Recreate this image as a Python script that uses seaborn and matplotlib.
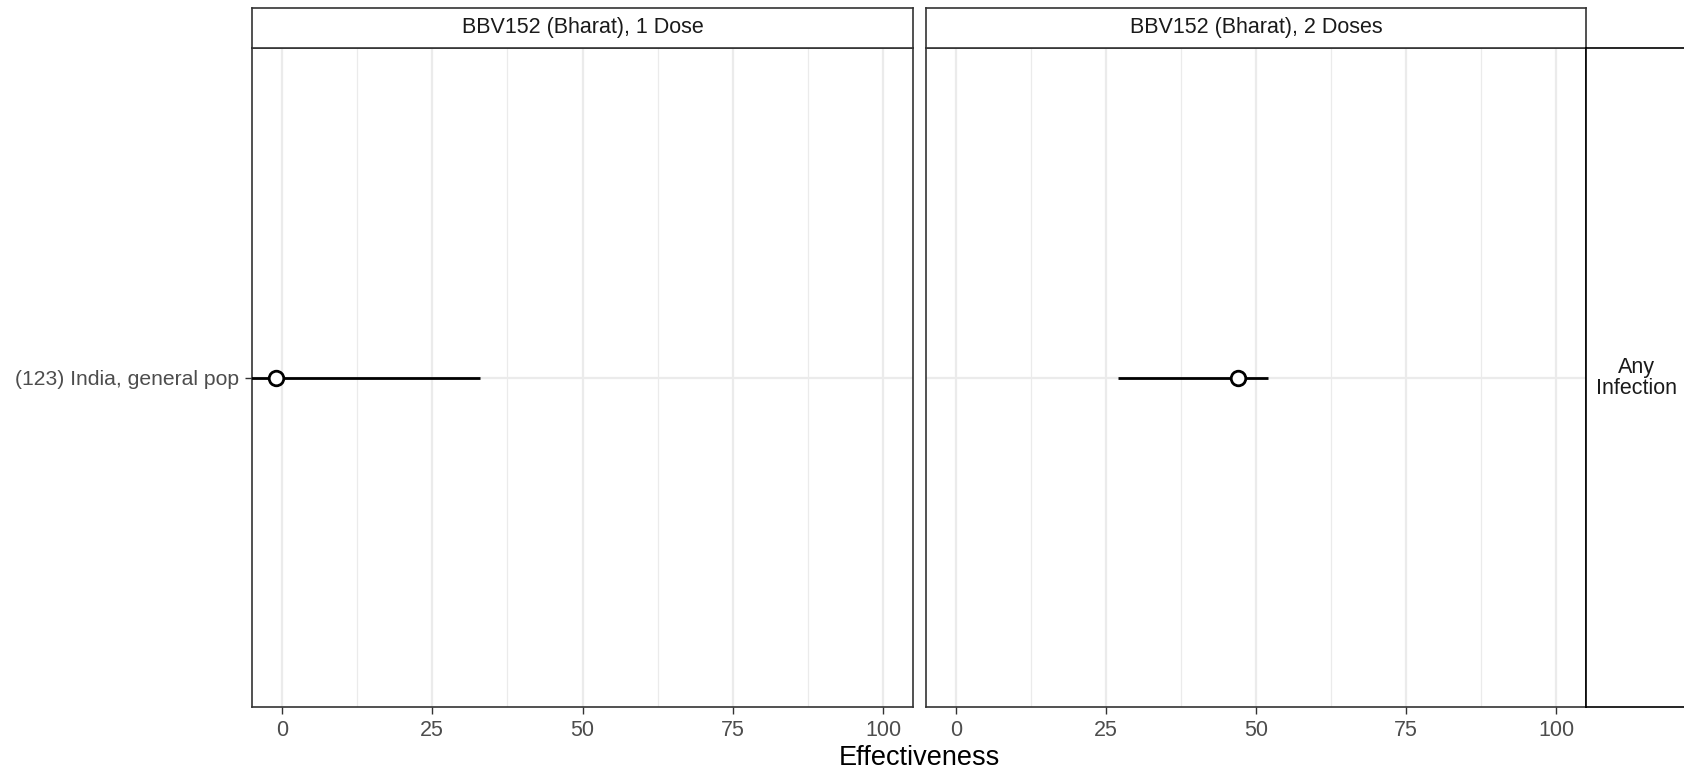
import numpy as np
import pandas as pd
import matplotlib
matplotlib.use("Agg")
import matplotlib.pyplot as plt
import seaborn as sns

# data
panels = ["BBV152 (Bharat), 1 Dose", "BBV152 (Bharat), 2 Doses"]
studies = ["(123) India, general pop"]
estimate = [-1, 47]
lower = [-12, 27]
upper = [33, 52]
outcome = "Any\nInfection"

df = pd.DataFrame({"panel": panels, "study": studies * 2,
                   "est": estimate, "lo": lower, "hi": upper})

sns.set_theme(style="white")
plt.rcParams["font.family"] = ["Liberation Sans", "DejaVu Sans"]

W, H = 1684, 776
fig = plt.figure(figsize=(W / 100, H / 100), dpi=100)


def px(x0, y0, x1, y1):
    return [x0 / W, 1 - y1 / H, (x1 - x0) / W, (y1 - y0) / H]


grey20 = "#333333"
grey30 = "#4d4d4d"
panel_x = [(252, 913), (926, 1586)]
top, bottom = 48, 707

for i, (name, (x0, x1)) in enumerate(zip(panels, panel_x)):
    ax = fig.add_axes(px(x0, top, x1, bottom))
    sub = df[df["panel"] == name]
    ypos = np.arange(len(sub))
    ax.hlines(ypos, sub["lo"], sub["hi"], color="black", lw=2, zorder=3)
    sns.scatterplot(x=sub["est"].values, y=ypos, ax=ax, s=110, color="white",
                    edgecolor="black", linewidth=2, zorder=4, legend=False)
    ax.set_xlim(-5, 105)
    ax.set_ylim(-0.6, 0.6)
    ax.set_xticks([0, 25, 50, 75, 100])
    ax.set_xticks([12.5, 37.5, 62.5, 87.5], minor=True)
    ax.set_yticks(ypos)
    ax.set_yticklabels(sub["study"] if i == 0 else [])
    ax.grid(True, which="major", color="#ebebeb", lw=1.6)
    ax.grid(True, which="minor", axis="x", color="#ebebeb", lw=0.9)
    ax.set_axisbelow(True)
    ax.tick_params(axis="both", which="major", length=5, width=1, color=grey20,
                   labelcolor=grey30, labelsize=15.5, pad=4,
                   bottom=True, left=True)
    ax.tick_params(axis="y", labelsize=15.2)
    ax.tick_params(axis="x", which="minor", length=0)
    if i == 1:
        ax.tick_params(axis="y", length=0)
    for s in ax.spines.values():
        s.set_color(grey20)
        s.set_linewidth(1.2)
    ax.set_xlabel("")
    ax.set_ylabel("")

    # facet strip on top
    st = fig.add_axes(px(x0, 8, x1, top))
    st.set_xticks([])
    st.set_yticks([])
    st.set_facecolor("white")
    for s in st.spines.values():
        s.set_color(grey20)
        s.set_linewidth(1.2)
    st.text(0.5, 0.5, name, ha="center", va="center", fontsize=15.5,
            color="#1a1a1a", transform=st.transAxes)

# right-hand strip (cut off by the figure edge)
rs = fig.add_axes(px(1586, top, 1700, bottom))
rs.set_xticks([])
rs.set_yticks([])
for s in rs.spines.values():
    s.set_color("black")
    s.set_linewidth(1.2)
rs.text((1636 - 1586) / (1700 - 1586), 0.5, outcome, ha="center", va="center",
        fontsize=15.5, color="#1a1a1a", linespacing=1.0, transform=rs.transAxes)

fig.text((252 + 1586) / 2 / W, 1 - 758 / H, "Effectiveness", ha="center",
         va="center", fontsize=19.5, color="black")

fig.savefig("out.png", dpi=100)
